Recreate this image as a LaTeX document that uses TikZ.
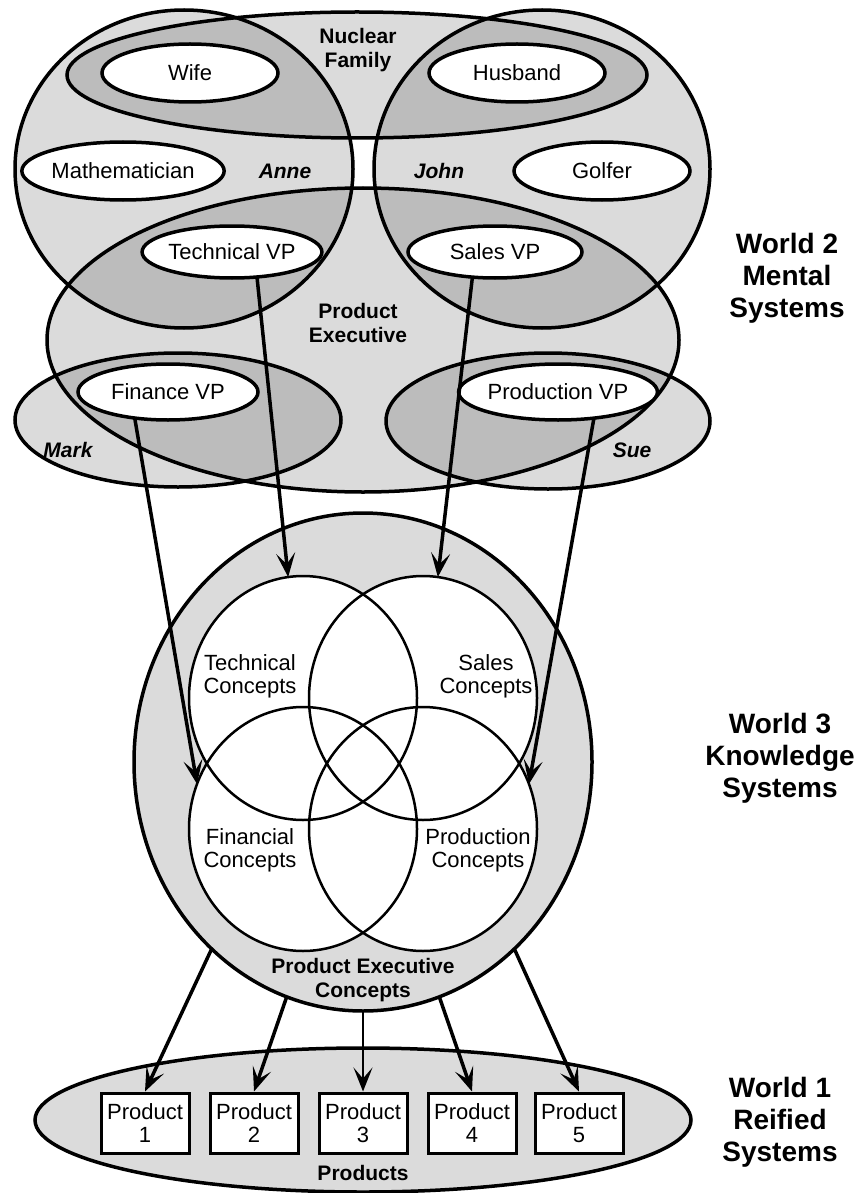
\documentclass[tikz,border=0pt]{standalone}
\usepackage{fontspec}
\setmainfont{Liberation Sans}
\usetikzlibrary{arrows.meta}
\usetikzlibrary{shapes.geometric}

\begin{document}
\begin{tikzpicture}[x=1pt, y=-1pt,
        dither/.style={fill=black, fill opacity=.14},
        rim/.style={line width=3.5pt},
        txt/.style={font=\fontsize{22}{23}\selectfont, align=center, inner sep=0pt},
        role/.style={ellipse, draw, rim, fill=white, txt, outer sep=0pt, minimum width=176pt, minimum height=58pt},
        conc/.style={ellipse, draw, line width=2.5pt, outer sep=0pt, minimum width=228pt, minimum height=244pt},
        grp/.style={font=\bfseries\fontsize{21}{24}\selectfont, align=center, inner sep=0pt},
        who/.style={font=\bfseries\itshape\fontsize{21}{24}\selectfont, inner sep=0pt},
        world/.style={font=\bfseries\fontsize{28}{32}\selectfont, align=center, inner sep=0pt},
        prod/.style={rectangle, draw, line width=3pt, fill=white, txt, minimum width=88pt, minimum height=60pt},
        arr/.style={-{Stealth[length=24pt, width=19pt, inset=11pt]}, line width=3.5pt}]
        \useasboundingbox (0, 0) rectangle (859, 1193);

        \foreach \cx/\cy/\rx/\ry in {184/169/169/159, 542/169/168/159, 357/75/290/63, 363/340/316/152, 178/420/163/67, 548/421/162/68}
            \fill[dither] (\cx, \cy) ellipse [x radius=\rx pt, y radius=\ry pt];
        \foreach \cx/\cy/\rx/\ry in {184/169/169/159, 542/169/168/159, 357/75/290/63, 363/340/316/152, 178/420/163/67, 548/421/162/68}
            \draw[rim] (\cx, \cy) ellipse [x radius=\rx pt, y radius=\ry pt];

        \node[role] (wife) at (190, 73) {Wife};
        \node[role] (husband) at (517, 73) {Husband};
        \node[role] (math) at (123, 171) {Mathematician};
        \node[role] (golfer) at (602, 171) {Golfer};
        \node[role, minimum width=172pt, minimum height=52pt] (techvp) at (232, 252) {Technical VP};
        \node[role, minimum width=174pt, minimum height=52pt] (salesvp) at (495, 252) {Sales VP};
        \node[role, minimum width=180pt, minimum height=56pt] (finvp) at (168, 392) {Finance VP};
        \node[role, minimum height=56pt] (prodvp) at (558, 392) {Production VP};

        \node[grp] (nuclear) at (358, 50) {Nuclear\\Family};
        \node[who] (anne) at (285, 171) {Anne};
        \node[who] (john) at (439, 171) {John};
        \node[grp] (prodexec) at (358, 323) {Product\\Executive};
        \node[who] (mark) at (68, 450) {Mark};
        \node[who] (sue) at (632, 450) {Sue};

        \node[ellipse, draw, rim, dither, outer sep=0pt, minimum width=458pt, minimum height=498pt] (bigc) at (363, 762) {};
        \foreach \cx/\cy in {303/698, 423/698, 303/829, 423/829}
            \fill[white] (\cx, \cy) ellipse [x radius=114pt, y radius=122pt];
        \node[conc] (tech) at (303, 698) {};
        \node[conc] (sales) at (423, 698) {};
        \node[conc] (fin) at (303, 829) {};
        \node[conc] (produc) at (423, 829) {};

        \node[txt] (techlbl) at (250, 676) {Technical\\Concepts};
        \node[txt] (saleslbl) at (486, 676) {Sales\\Concepts};
        \node[txt] (finlbl) at (250, 850) {Financial\\Concepts};
        \node[txt] (produclbl) at (478, 850) {Production\\Concepts};
        \node[grp] (pelbl) at (363, 980) {Product Executive\\Concepts};

        \fill[dither] (363, 1120) ellipse [x radius=328pt, y radius=72pt];
        \draw[rim] (363, 1120) ellipse [x radius=328pt, y radius=72pt];
        \foreach \i/\x in {1/145, 2/254, 3/363, 4/472, 5/579}
            \node[prod] (p\i) at (\x, 1123) {Product\\\i};
        \node[grp] (products) at (363, 1173) {Products};

        \node[world] (w2) at (787, 278) {World 2\\Mental\\Systems};
        \node[world] (w3) at (780, 758) {World 3\\Knowledge\\Systems};
        \node[world] (w1) at (780, 1122) {World 1\\Reified\\Systems};

        \draw[arr] (techvp.-45) -- (tech.97);
        \draw[arr] (salesvp.-132) -- (sales.83);
        \draw[arr] (finvp.-142) -- (fin.157);
        \draw[arr] (prodvp.-36) -- (produc.23);

        \draw[arr] (bigc.-129) -- (p1.north);
        \draw[arr] (bigc.-108) -- (p2.north);
        \draw[arr, line width=2.5pt] (bigc.south) -- (p3.north);
        \draw[arr] (bigc.-72) -- (p4.north);
        \draw[arr] (bigc.-51) -- (p5.north);
    \end{tikzpicture}
\end{document}
